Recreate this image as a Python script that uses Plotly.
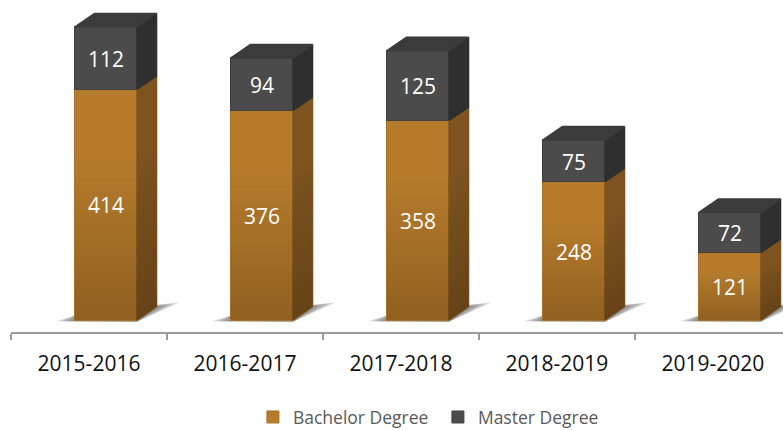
import plotly.graph_objects as go

years = ["2015-2016", "2016-2017", "2017-2018", "2018-2019", "2019-2020"]
bachelor = [414, 376, 358, 248, 121]
master = [112, 94, 125, 75, 72]

FONT = "Open Sans"
X = list(range(len(years)))
OFFSET, WIDTH = -0.09, 0.398      # bar position inside each category
DX, DY = 0.125, 24.0              # 3D depth in axis units
BANDS = 24
LABEL_DROP = 6.5

fig = go.Figure()


def poly(xs, ys, color):
    fig.add_trace(go.Scatter(x=xs, y=ys, mode="lines", fill="toself", fillcolor=color,
                             line=dict(color=color, width=1.5, shape="linear"), showlegend=False,
                             hoverinfo="skip"))


def side(i, lo, hi):
    l = i + OFFSET + WIDTH
    return [l, l + DX, l + DX, l, l], [lo, lo + DY, hi + DY, hi, lo]


fig.add_trace(go.Bar(x=X, y=bachelor, name="Bachelor Degree", offset=OFFSET, width=WIDTH,
                     marker=dict(color="#b67c2c", line=dict(color="#a87228", width=1))))
fig.add_trace(go.Bar(x=X, y=master, name="Master Degree", offset=OFFSET, width=WIDTH,
                     marker=dict(color="#4b4b4b", line=dict(color="#414141", width=1))))

# side and top faces, built from the data
for i in X:
    b, t = bachelor[i], bachelor[i] + master[i]
    xs, ys = side(i, 0, b)
    poly(xs, ys, "#7d5420")
    xs, ys = side(i, b, t)
    poly(xs, ys, "#2f2f2f")
    l = i + OFFSET
    r = l + WIDTH
    poly([l, r, r + DX, l + DX, l], [t, t, t + DY, t + DY, t], "#3b3b3b")

# vertical shading in the lower part of each orange column
for k in range(BANDS):
    alpha = 0.26 * (k + 1) / BANDS
    xs_all, ys_all = [], []
    for i in X:
        b = bachelor[i]
        lo = b * (BANDS - 1 - k) / BANDS * 0.7
        hi = b * (BANDS - k) / BANDS * 0.7
        l = i + OFFSET
        r = l + WIDTH
        xs_all += [l, r, r + DX, r + DX, r, l, l, None]
        ys_all += [lo, lo, lo + DY, hi + DY, hi, hi, lo, None]
    fig.add_trace(go.Scatter(x=xs_all, y=ys_all, mode="none", fill="toself",
                             fillcolor=f"rgba(40,20,0,{alpha:.3f})", showlegend=False,
                             hoverinfo="skip"))

# value labels
fig.add_trace(go.Scatter(x=[i + OFFSET + WIDTH / 2 for i in X],
                         y=[v / 2 - LABEL_DROP for v in bachelor],
                         mode="text", text=[str(v) for v in bachelor],
                         textfont=dict(family=FONT, size=21, color="white"),
                         showlegend=False, hoverinfo="skip"))
fig.add_trace(go.Scatter(x=[i + OFFSET + WIDTH / 2 for i in X],
                         y=[b + m / 2 - LABEL_DROP for b, m in zip(bachelor, master)],
                         mode="text", text=[str(v) for v in master],
                         textfont=dict(family=FONT, size=21, color="white"),
                         showlegend=False, hoverinfo="skip"))

# soft ground shadows
shapes = []
for i in X:
    l = i + OFFSET
    r = l + WIDTH
    for g in range(8):
        grow = 0.13 * (8 - g) / 8
        shapes.append(dict(type="path", layer="below", xref="x", yref="y",
                           path=f"M {l-grow} -2 L {r} -3 L {r+DX+grow*1.2} {DY+grow*60} "
                                f"L {r} {DY} L {l} 8 Z",
                           fillcolor="#606060", opacity=0.13, line=dict(width=0)))

fig.update_layout(
    width=783, height=430, barmode="stack", plot_bgcolor="white", paper_bgcolor="white",
    margin=dict(l=11, r=0, t=0, b=98), shapes=shapes, font=dict(family=FONT),
    legend=dict(orientation="h", x=0.323, xanchor="left", xref="container",
                y=0.03, yanchor="middle", yref="container",
                entrywidth=140, entrywidthmode="pixels",
                font=dict(family=FONT, size=17.5, color="#595959"), traceorder="normal",
                bgcolor="rgba(0,0,0,0)"),
    xaxis=dict(range=[-0.5, 4.449], tickmode="array", tickvals=X, ticktext=years, ticks="",
               ticklabelstandoff=12,
               tickfont=dict(family=FONT, size=21, color="#111111"), showgrid=False,
               zeroline=False, showline=True, linecolor="#9a9a9a", linewidth=2,
               minor=dict(tickmode="array", tickvals=[-0.5, 0.5, 1.5, 2.5, 3.5], ticks="outside",
                          ticklen=6, tickwidth=2, tickcolor="#9a9a9a", showgrid=False)),
    yaxis=dict(range=[-21.5, 574], visible=False, showgrid=False, zeroline=False),
)
fig.write_html("out.html", config={"displayModeBar": False},
               post_script="document.body.style.margin='0';")
